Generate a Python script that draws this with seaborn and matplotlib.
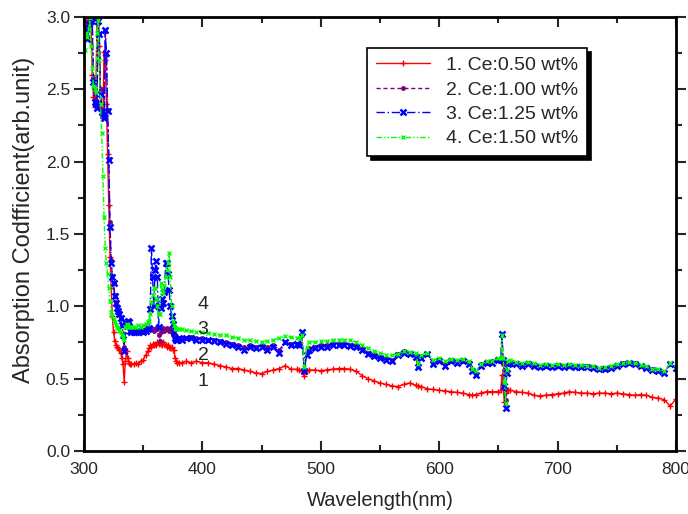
import matplotlib
matplotlib.use("Agg")
import matplotlib.pyplot as plt
import seaborn as sns
from matplotlib.ticker import MultipleLocator

# Wavelength grid (nm) shared by all four samples.
wavelength = (
    list(range(301, 341))
    + [342, 344, 346, 348, 350, 352, 354]
    + list(range(355, 381))
    + [383, 386] + list(range(390, 481, 5))
    + [482, 484, 486, 488, 490]
    + list(range(495, 581, 5))
    + [582] + list(range(585, 626, 5))
    + [628, 631, 635, 640, 645, 650]
    + [652, 653, 654, 655, 656, 657, 658, 660]
    + list(range(665, 801, 5))
)

# 1. Ce:0.50 wt%
ce050 = [
    2.95, 2.98, 2.90, 2.97, 2.99, 2.96, 2.60, 2.45, 2.38, 2.42,
    2.95, 2.99, 2.80, 2.40, 2.35, 2.30, 2.76, 2.70, 2.40, 2.05,
    1.70, 1.34, 1.13, 0.93, 0.82, 0.76, 0.73, 0.72, 0.71, 0.70,
    0.68, 0.64, 0.60, 0.48, 0.62, 0.69, 0.64, 0.61, 0.60, 0.60,
    0.60, 0.61, 0.60, 0.62, 0.63, 0.66, 0.69,
    0.71, 0.73, 0.72, 0.74, 0.73, 0.74, 0.73, 0.75, 0.74, 0.745,
    0.74, 0.73, 0.75, 0.74, 0.73, 0.72, 0.73, 0.72, 0.71, 0.72,
    0.70, 0.70, 0.64, 0.62, 0.61, 0.61,
    0.61, 0.62, 0.61, 0.62, 0.61, 0.61, 0.60, 0.59, 0.58, 0.57,
    0.57, 0.56, 0.55, 0.54, 0.535, 0.55, 0.56, 0.57, 0.59, 0.565, 0.565,
    0.56, 0.55, 0.52, 0.55, 0.56,
    0.56, 0.555, 0.56, 0.565, 0.57, 0.57, 0.565, 0.55, 0.52, 0.50,
    0.485, 0.47, 0.46, 0.45, 0.445, 0.46, 0.47, 0.455,
    0.45, 0.445, 0.43, 0.425, 0.42, 0.415, 0.41, 0.405, 0.40, 0.39,
    0.385, 0.39, 0.40, 0.41, 0.41, 0.41,
    0.42, 0.525, 0.45, 0.34, 0.40, 0.42, 0.42, 0.42,
    0.41, 0.405, 0.40, 0.385, 0.38, 0.385, 0.39, 0.395, 0.40, 0.41,
    0.405, 0.40, 0.40, 0.395, 0.40, 0.40, 0.395, 0.40, 0.395, 0.39,
    0.385, 0.39, 0.385, 0.37, 0.365, 0.355, 0.31, 0.36,
]

# 2. Ce:1.00 wt%
ce100 = [
    2.92, 2.93, 2.87, 2.95, 2.98, 2.97, 2.98, 2.58, 2.43, 2.40,
    2.38, 2.96, 2.88, 2.50, 2.36, 2.33, 2.31, 2.90, 2.74, 2.36,
    2.02, 1.58, 1.32, 1.21, 1.16, 1.08, 1.03, 1.00, 0.97, 0.95,
    0.92, 0.87, 0.81, 0.72, 0.88, 0.87, 0.89, 0.88, 0.84, 0.83,
    0.83, 0.83, 0.83, 0.84, 0.83, 0.84, 0.84,
    0.84, 0.84, 0.85, 0.84, 0.83, 0.84, 0.85, 0.84, 0.80, 0.76,
    0.82, 0.84, 0.85, 0.83, 0.84, 0.85, 0.84, 0.83, 0.84, 0.82,
    0.80, 0.79, 0.78, 0.78, 0.78, 0.78,
    0.78, 0.78, 0.79, 0.78, 0.78, 0.77, 0.77, 0.76, 0.75, 0.74,
    0.73, 0.72, 0.73, 0.72, 0.73, 0.72, 0.73, 0.70, 0.75, 0.74, 0.74,
    0.74, 0.80, 0.56, 0.68, 0.71,
    0.72, 0.73, 0.73, 0.74, 0.74, 0.745, 0.735, 0.73, 0.71, 0.68,
    0.665, 0.65, 0.64, 0.63, 0.67, 0.69, 0.68, 0.66,
    0.59, 0.65, 0.67, 0.61, 0.63, 0.60, 0.625, 0.62, 0.625, 0.61,
    0.56, 0.53, 0.60, 0.61, 0.62, 0.63,
    0.63, 0.80, 0.60, 0.56, 0.35, 0.55, 0.61, 0.62,
    0.605, 0.595, 0.605, 0.595, 0.585, 0.59, 0.585, 0.59, 0.585, 0.59,
    0.585, 0.585, 0.585, 0.58, 0.57, 0.57, 0.58, 0.595, 0.605, 0.61,
    0.605, 0.59, 0.58, 0.565, 0.56, 0.545, 0.60, 0.58,
]

# 3. Ce:1.25 wt%
ce125 = [
    2.90, 2.92, 2.85, 2.95, 2.98, 2.97, 2.99, 2.55, 2.41, 2.40,
    2.37, 2.97, 2.88, 2.47, 2.34, 2.32, 2.30, 2.91, 2.75, 2.35,
    2.01, 1.55, 1.30, 1.20, 1.16, 1.07, 1.02, 0.99, 0.97, 0.95,
    0.92, 0.87, 0.80, 0.69, 0.89, 0.87, 0.90, 0.89, 0.83, 0.82,
    0.82, 0.82, 0.82, 0.83, 0.82, 0.83, 0.84,
    0.85, 0.98, 1.40, 1.20, 1.00, 1.25, 1.31, 1.20, 0.86, 1.00,
    0.99, 1.05, 1.02, 1.10, 1.30, 1.30, 1.22, 1.11, 1.00, 0.93,
    0.88, 0.82, 0.78, 0.77, 0.77, 0.78,
    0.77, 0.78, 0.78, 0.77, 0.77, 0.765, 0.76, 0.75, 0.74, 0.73,
    0.72, 0.70, 0.72, 0.71, 0.72, 0.70, 0.72, 0.68, 0.75, 0.73, 0.74,
    0.73, 0.82, 0.55, 0.66, 0.70,
    0.71, 0.72, 0.72, 0.73, 0.73, 0.735, 0.725, 0.72, 0.70, 0.67,
    0.655, 0.64, 0.63, 0.62, 0.66, 0.68, 0.67, 0.65,
    0.58, 0.64, 0.67, 0.60, 0.62, 0.59, 0.62, 0.61, 0.62, 0.60,
    0.55, 0.525, 0.59, 0.605, 0.61, 0.63,
    0.63, 0.81, 0.63, 0.45, 0.30, 0.54, 0.60, 0.61,
    0.60, 0.59, 0.60, 0.59, 0.58, 0.585, 0.58, 0.585, 0.58, 0.585,
    0.58, 0.58, 0.58, 0.575, 0.565, 0.565, 0.575, 0.59, 0.60, 0.605,
    0.60, 0.585, 0.575, 0.56, 0.555, 0.54, 0.60, 0.575,
]

# 4. Ce:1.50 wt%
ce150 = [
    2.77, 2.89, 2.86, 2.92, 2.99, 2.80, 2.65, 2.52, 2.50, 2.48,
    2.89, 2.98, 2.70, 2.40, 2.20, 1.90, 1.62, 1.40, 1.30, 1.22,
    1.13, 1.04, 0.96, 0.93, 0.91, 0.89, 0.87, 0.86, 0.85, 0.83,
    0.82, 0.80, 0.78, 0.77, 0.86, 0.88, 0.87, 0.86, 0.86, 0.86,
    0.86, 0.86, 0.87, 0.86, 0.87, 0.88, 0.89,
    0.90, 0.95, 1.03, 1.08, 1.13, 1.13, 1.05, 1.00, 0.95, 0.95,
    1.16, 1.12, 1.09, 1.15, 1.20, 1.25, 1.30, 1.37, 1.20, 1.00,
    0.90, 0.87, 0.85, 0.84, 0.84, 0.84,
    0.84, 0.835, 0.83, 0.825, 0.82, 0.815, 0.81, 0.80, 0.80, 0.79,
    0.78, 0.77, 0.765, 0.76, 0.755, 0.76, 0.77, 0.78, 0.795, 0.785, 0.78,
    0.78, 0.80, 0.58, 0.72, 0.755,
    0.755, 0.76, 0.76, 0.765, 0.77, 0.77, 0.765, 0.75, 0.73, 0.71,
    0.69, 0.68, 0.665, 0.66, 0.67, 0.69, 0.685, 0.68,
    0.60, 0.66, 0.68, 0.63, 0.64, 0.62, 0.635, 0.63, 0.635, 0.62,
    0.57, 0.55, 0.60, 0.62, 0.625, 0.64,
    0.64, 0.80, 0.64, 0.48, 0.33, 0.56, 0.62, 0.63,
    0.615, 0.605, 0.615, 0.605, 0.595, 0.60, 0.595, 0.60, 0.595, 0.60,
    0.595, 0.595, 0.59, 0.585, 0.575, 0.58, 0.59, 0.60, 0.61, 0.615,
    0.61, 0.595, 0.585, 0.57, 0.565, 0.55, 0.605, 0.58,
]

labels = ["1. Ce:0.50 wt%", "2. Ce:1.00 wt%", "3. Ce:1.25 wt%", "4. Ce:1.50 wt%"]
curve_tags = ["1", "2", "3", "4"]
tag_y = [0.48, 0.66, 0.84, 1.01]

sns.set_style("ticks")
plt.rcParams["font.family"] = ["Liberation Sans", "DejaVu Sans"]

fig = plt.figure(figsize=(6.88, 5.14), dpi=100)
ax = fig.add_axes([0.122, 0.1226, 0.8606, 0.8444])

colors = ["#ff0000", "#800080", "#0000ff", "#00ff00"]
dashes = ["-", (0, (3, 2)), (0, (6, 2, 1, 2)), (0, (4, 1.5, 1, 1.5, 1, 1.5))]
marks = [("+", 5, 1.0), ("o", 2.5, 1.0), ("x", 4, 1.8), ("x", 3.5, 1.0)]
series = [ce050, ce100, ce125, ce150]

for vals, lab, col, ls, mk in zip(series, labels, colors, dashes, marks):
    sns.lineplot(x=wavelength, y=vals, ax=ax, label=lab, color=col,
                 linewidth=1.0, sort=False, estimator=None)
    ln = ax.lines[-1]
    ln.set_linestyle(ls)
    ln.set_marker(mk[0])
    ln.set_markersize(mk[1])
    ln.set_markeredgewidth(mk[2])
    ln.set_markeredgecolor(col)
    ln.set_markerfacecolor(col)

for t, yv in zip(curve_tags, tag_y):
    ax.text(400.5, yv, t, fontsize=14, ha="center", va="center")

ax.set_xlim(300, 800)
ax.set_ylim(0, 3.0)
ax.xaxis.set_major_locator(MultipleLocator(100))
ax.xaxis.set_minor_locator(MultipleLocator(50))
ax.yaxis.set_major_locator(MultipleLocator(0.5))
ax.yaxis.set_minor_locator(MultipleLocator(0.25))
ax.tick_params(axis="x", which="both", direction="in", top=True, labelsize=12.5, width=1.5, pad=8)
ax.tick_params(axis="y", which="both", direction="out", right=True, labelsize=12.5, width=1.5, pad=3)
ax.tick_params(which="major", length=7)
ax.tick_params(which="minor", length=4)
for sp in ax.spines.values():
    sp.set_linewidth(2)
    sp.set_color("black")

ax.set_xlabel("Wavelength(nm)", fontsize=14.5, labelpad=10)
ax.set_ylabel("Absorption Codfficient(arb.unit)", fontsize=17)
ax.yaxis.set_label_coords(-0.082, 0.532)

leg = ax.legend(loc="upper left", bbox_to_anchor=(0.478, 0.929), borderaxespad=0,
                fontsize=14, handlelength=2.8, labelspacing=0.35, fancybox=False,
                framealpha=1, edgecolor="black", borderpad=0.45,
                shadow={"color": "black", "alpha": 1, "ox": 3, "oy": -3})
leg.get_frame().set_linewidth(1.2)

fig.savefig("out.png", dpi=100)
